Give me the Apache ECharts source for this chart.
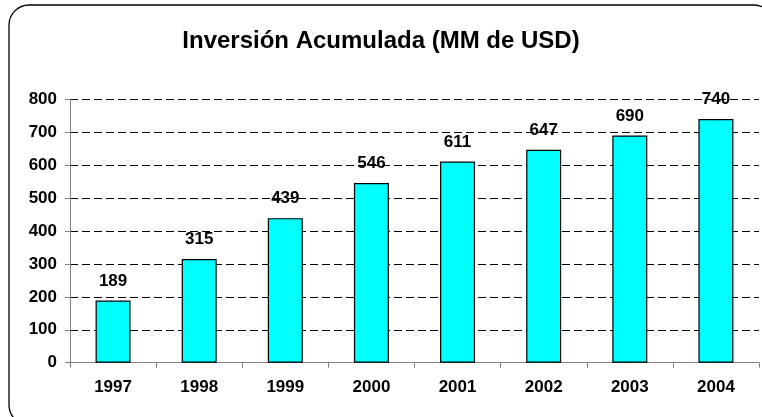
<!DOCTYPE html>
<html>
<head>
<meta charset="utf-8">
<script src="https://cdn.jsdelivr.net/npm/echarts@6/dist/echarts.min.js"></script>
<style>
html,body{margin:0;padding:0;background:#fff;}
#chart{width:762px;height:417px;}
</style>
</head>
<body>
<div id="chart"></div>
<script>
const titleText = 'Inversión Acumulada (MM de USD)';
const years = ['1997','1998','1999','2000','2001','2002','2003','2004'];
const investment = [189, 315, 439, 546, 611, 647, 690, 740];

const chart = echarts.init(document.getElementById('chart'), null, {renderer: 'canvas'});
const font = '"Liberation Sans", Arial, sans-serif';
chart.setOption({
  animation: false,
  backgroundColor: '#fff',
  title: {
    text: titleText,
    left: 'center',
    top: 24,
    textStyle: {fontFamily: font, fontWeight: 'bold', fontSize: 24, color: '#000'}
  },
  graphic: [{
    type: 'rect',
    shape: {x: 9, y: 5, width: 765, height: 420, r: 20},
    style: {fill: 'none', stroke: '#000', lineWidth: 1.3},
    z: 100
  }],
  grid: {left: 70, right: 3, top: 99.3, bottom: 54.3, containLabel: false},
  xAxis: {
    type: 'category',
    data: years,
    boundaryGap: true,
    axisLine: {lineStyle: {color: '#808080', width: 1}},
    axisTick: {show: true, length: 5, lineStyle: {color: '#808080'}},
    axisLabel: {fontFamily: font, fontWeight: 'bold', fontSize: 17, color: '#000', margin: 16},
    splitLine: {show: false}
  },
  yAxis: {
    type: 'value',
    min: 0,
    max: 800,
    interval: 100,
    axisLine: {show: true, lineStyle: {color: '#808080', width: 1}},
    axisTick: {show: true, length: 5, lineStyle: {color: '#808080'}},
    axisLabel: {fontFamily: font, fontWeight: 'bold', fontSize: 17, color: '#000', margin: 13},
    splitLine: {show: true, lineStyle: {color: '#000', type: [8, 4], width: 1}}
  },
  series: [{
    type: 'bar',
    data: investment,
    barWidth: 35,
    itemStyle: {color: '#00FFFF', borderColor: '#000', borderWidth: 1.2},
    label: {
      show: true,
      position: 'top',
      distance: 11,
      fontFamily: font,
      fontWeight: 'bold',
      fontSize: 17,
      color: '#000'
    }
  }]
});
</script>
</body>
</html>
